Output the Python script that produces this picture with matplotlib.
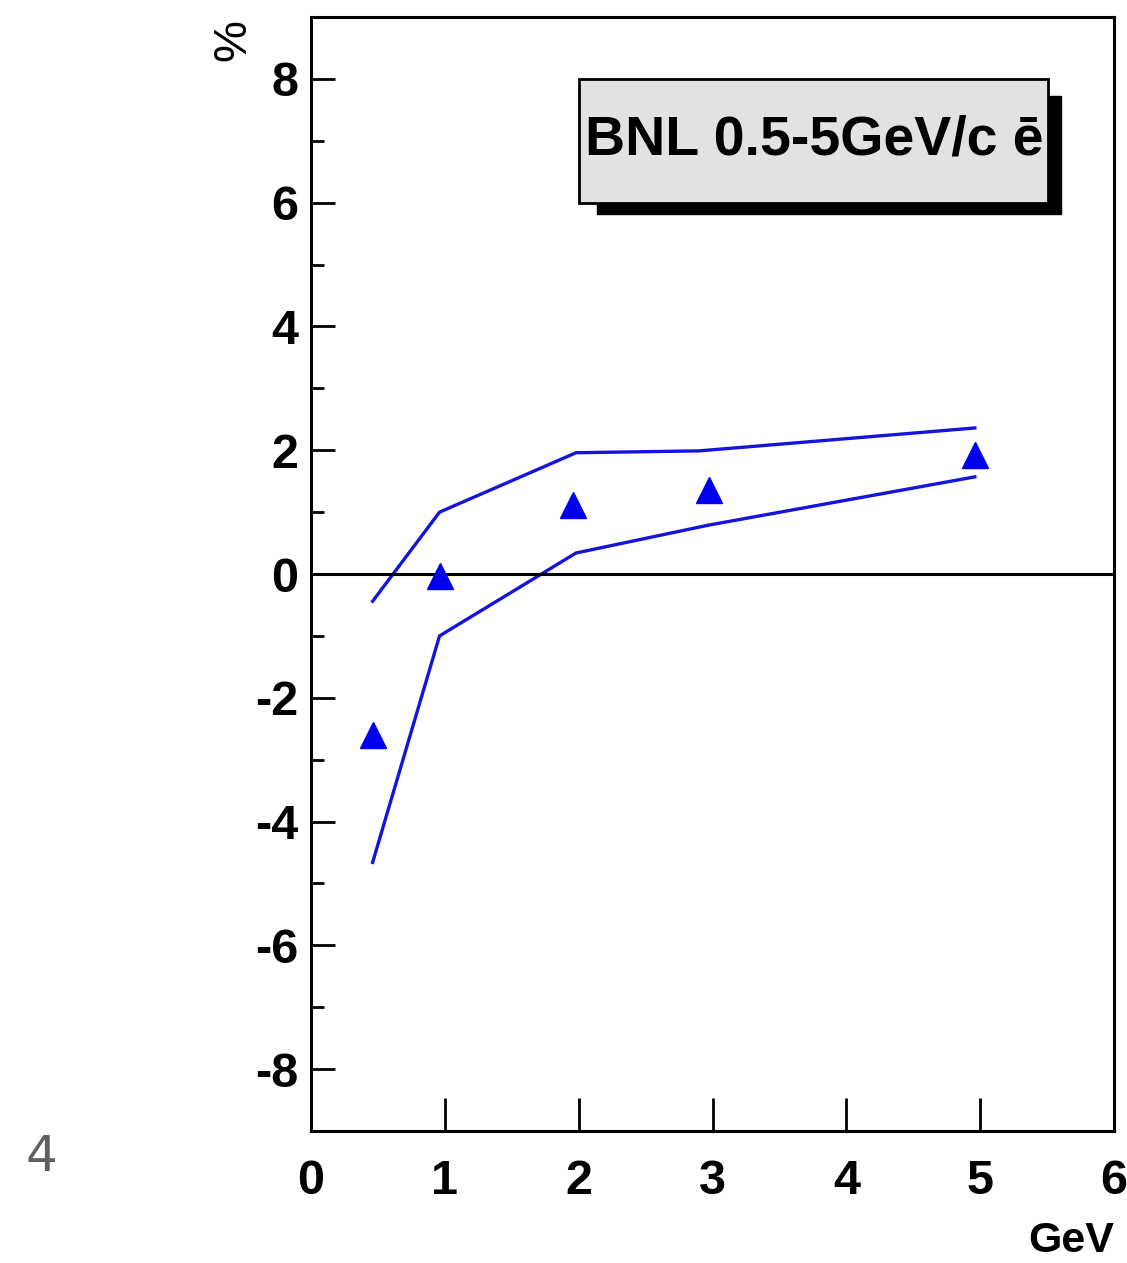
import numpy as np
import matplotlib.pyplot as plt
from matplotlib.patches import Rectangle
from matplotlib.ticker import MultipleLocator

# measured points (triangles)
x_pts = [0.46, 0.96, 1.96, 2.97, 4.96]
y_pts = [-2.6, -0.03, 1.12, 1.36, 1.93]

# upper / lower band
x_up = [0.46, 0.96, 1.98, 2.90, 4.96]
y_up = [-0.44, 1.0, 1.96, 1.99, 2.36]
x_lo = [0.46, 0.96, 1.98, 2.97, 4.96]
y_lo = [-4.66, -1.0, 0.34, 0.79, 1.57]

xticks = [0, 1, 2, 3, 4, 5, 6]
yticks = [-8, -6, -4, -2, 0, 2, 4, 6, 8]

plt.rcParams['font.family'] = ['Liberation Sans', 'DejaVu Sans']
plt.rcParams['axes.unicode_minus'] = False

fig = plt.figure(figsize=(11.27, 12.63), dpi=100)
ax = fig.add_axes([0.276, 0.1045, 0.7125, 0.882])

ax.plot(x_up, y_up, color='#1414dc', lw=2.4)
ax.plot(x_lo, y_lo, color='#1414dc', lw=2.4)
ax.axhline(0, color='black', lw=2.2)
ax.plot(x_pts, y_pts, '^', color='#0000ee', ms=19, mec='#0000ee')

ax.set_xlim(0, 6)
ax.set_ylim(-9, 9)
ax.set_xticks(xticks)
ax.set_yticks(yticks)
ax.yaxis.set_minor_locator(MultipleLocator(1))
for s in ax.spines.values():
    s.set_linewidth(2.2)

ax.tick_params(axis='x', direction='in', length=24, width=2, labelsize=35, pad=20)
ax.tick_params(axis='y', which='major', direction='in', length=17, width=2, labelsize=35, pad=9)
ax.tick_params(axis='y', which='minor', direction='in', length=9, width=2)
for lab in ax.get_xticklabels() + ax.get_yticklabels():
    lab.set_fontweight('bold')

# box with shadow
ax.add_patch(Rectangle((2.14, 5.81), 3.46, 1.91, transform=ax.transData,
                       facecolor='black', edgecolor='black', zorder=4))
ax.add_patch(Rectangle((2.0, 6.0), 3.51, 2.0, transform=ax.transData,
                       facecolor='#e2e2e2', edgecolor='black', lw=2, zorder=5))
ax.text(2.05, 7.0, 'BNL 0.5-5GeV/c ē', fontsize=40, fontweight='bold',
        ha='left', va='center', zorder=6)

fig.text(233 / 1127, 1 - 40 / 1263, '%', rotation=90, fontsize=34,
         ha='center', va='center')
fig.text(1114 / 1127, 1 - 1241 / 1263, 'GeV', fontsize=31, fontweight='bold',
         ha='right', va='center')
fig.text(41 / 1127, 1 - 1157 / 1263, '4', fontsize=36, color='#606060',
         family='DejaVu Sans', ha='center', va='center')

fig.savefig('out.png', dpi=100)
